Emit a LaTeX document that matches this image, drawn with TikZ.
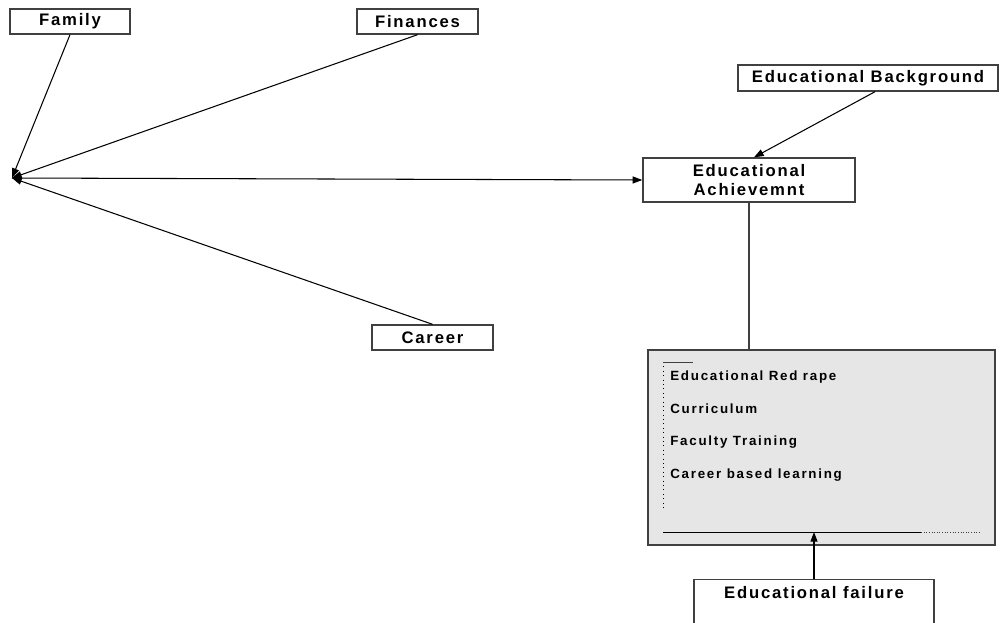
\documentclass[tikz,border=0pt]{standalone}
\usepackage{fontspec}
\usetikzlibrary{arrows.meta,calc}
\newfontfamily\boxfont[LetterSpace=10.7]{Liberation Sans}
\newfontfamily\listfont[LetterSpace=13]{Liberation Sans}
\definecolor{boxgrey}{HTML}{E6E6E6}
\definecolor{edge}{HTML}{404040}
\tikzset{
  box/.style={draw=edge, line width=0.8pt, fill=white, inner sep=0pt, font=\boxfont\bfseries\fontsize{9.5}{11.3}\selectfont, align=center},
  conn/.style={line width=0.6pt, draw=black},
  arr/.style={conn, -{Triangle[length=5.5pt,width=4pt]}},
  listtext/.style={anchor=base west, inner sep=0pt, font=\listfont\bfseries\fontsize{7.6}{9}\selectfont},
}
\begin{document}
\begin{tikzpicture}[x=0.02cm, y=-0.02cm]
\useasboundingbox (0,0) rectangle (1000,622);
% nodes
\node[box, minimum width=2.4cm, minimum height=0.5cm] (family) at (70,21.5) {Family};
\node[box, minimum width=2.42cm, minimum height=0.5cm] (finances) at (417.5,21.5) {Finances};
\node[box, minimum width=5.2cm, minimum height=0.52cm] (bg) at (868,78) {Educational Background};
\node[box, minimum width=4.24cm, minimum height=0.88cm] (ach) at (749,180) {Educational\\Achievemnt};
\node[box, minimum width=2.42cm, minimum height=0.5cm] (career) at (432.5,337.5) {Career};
\node[draw=edge, line width=0.8pt, fill=boxgrey, minimum width=6.94cm, minimum height=3.9cm, inner sep=0pt] (grey) at (821.5,447.5) {};
\node[box, anchor=north, minimum width=4.8cm, inner ysep=0.1cm, text height=0.27cm, text depth=0.95cm] (fail) at (814,579) {Educational failure};
% contents of the grey box
\coordinate (ltop) at (663,362);
\coordinate (lbot) at (663,508);
\coordinate (ltick) at (693,362);
\coordinate (inl) at (663,532);
\coordinate (inm) at (921,532);
\coordinate (inr) at (980,532);
\draw[line width=0.5pt, dotted] (ltop) -- (lbot);
\draw[line width=0.5pt, draw=edge] (ltop) -- (ltick);
\draw[line width=0.5pt] (inl) -- (inm);
\draw[line width=0.5pt, densely dotted, draw=edge] (inm) -- (inr);
\node[listtext] (t1) at (670,380) {Educational Red rape};
\node[listtext] (t2) at (670,413) {Curriculum};
\node[listtext] (t3) at (670,445) {Faculty Training};
\node[listtext] (t4) at (670,478) {Career based learning};
% hub
\coordinate (hub) at (12,178);
% connectors
\draw[arr] (family.south) -- (hub);
\draw[arr] (finances.south) -- (hub);
\draw[arr] (career.north) -- (hub);
\draw[arr] (hub) -- (ach.west);
\draw[arr] ($(bg.south)+(7,0)$) -- ($(ach.north)+(5,0)$);
\draw[conn, draw=edge] (ach.south) -- (ach.south |- grey.north);
\draw[arr] (fail.north) -- (fail.north |- inl);
\end{tikzpicture}
\end{document}
